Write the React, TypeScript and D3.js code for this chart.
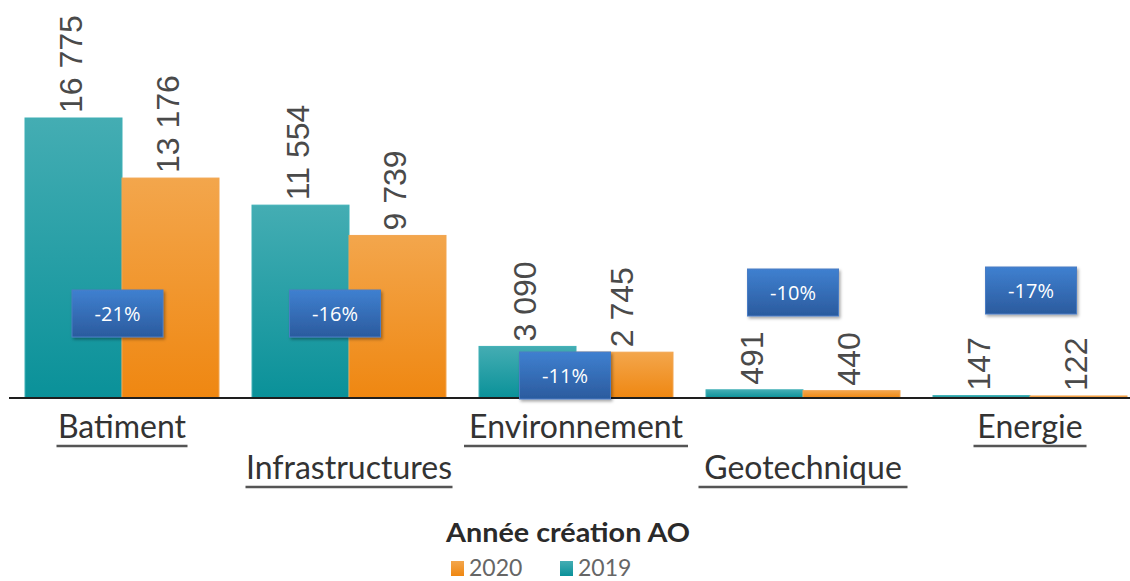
import React from "react";
import * as d3 from "d3";

const categories = ["Batiment", "Infrastructures", "Environnement", "Geotechnique", "Energie"];
const values2019 = [16775, 11554, 3090, 491, 147];
const values2020 = [13176, 9739, 2745, 440, 122];
const seriesKeys = ["2019", "2020"];
const legendTitle = "Année création AO";
const legendOrder = ["2020", "2019"];

// annotation box placement (dx from group centre, top y)
const boxLayout = [
  { dx: -4.5, y: 290 },
  { dx: -14, y: 290 },
  { dx: -11, y: 352 },
  { dx: -10, y: 269 },
  { dx: 1, y: 267 },
];

const W = 1130;
const H = 581;
const baseY = 398;

const fmt = (v: number) => d3.format(",")(v).replace(/,/g, " ");

export default function App() {
  const x0 = d3
    .scaleBand<string>()
    .domain(categories)
    .range([8.5, 1143.5])
    .paddingInner(33 / 227)
    .paddingOuter(33 / 454);
  const x1 = d3.scaleBand<string>().domain(seriesKeys).range([0, x0.bandwidth()]).padding(0);
  const y = d3.scaleLinear().domain([0, 16775]).range([baseY, 118]);

  const colorFill: Record<string, string> = { "2019": "url(#gTeal)", "2020": "url(#gOrange)" };
  const colorStroke: Record<string, string> = { "2019": "#3fb0b6", "2020": "#f2a550" };
  const legendColor: Record<string, string> = { "2019": "url(#gTeal)", "2020": "url(#gOrange)" };

  const rows = categories.map((c, i) => ({
    cat: c,
    vals: { "2019": values2019[i], "2020": values2020[i] } as Record<string, number>,
  }));

  const labelRowY = [438, 479];

  return (
    <svg
      width={W}
      height={H}
      style={{ position: "absolute", left: 0, top: 0, background: "#fff" }}
    >
      <defs>
        <linearGradient id="gTeal" x1="0" y1="0" x2="0" y2="1">
          <stop offset="0" stopColor="#44adb3" />
          <stop offset="1" stopColor="#0a9199" />
        </linearGradient>
        <linearGradient id="gOrange" x1="0" y1="0" x2="0" y2="1">
          <stop offset="0" stopColor="#f3a64c" />
          <stop offset="1" stopColor="#ef8711" />
        </linearGradient>
        <linearGradient id="gBlue" x1="0" y1="0" x2="0" y2="1">
          <stop offset="0" stopColor="#3f80d0" />
          <stop offset="1" stopColor="#2b5b9e" />
        </linearGradient>
        <filter id="shadow" x="-20%" y="-20%" width="140%" height="150%">
          <feDropShadow dx="1.5" dy="2" stdDeviation="1.5" floodColor="#000" floodOpacity="0.35" />
        </filter>
      </defs>

      {rows.map((r) => (
        <g key={r.cat} transform={`translate(${x0(r.cat)},0)`}>
          {seriesKeys.map((k) => {
            const v = r.vals[k];
            const bx = x1(k)!;
            const bw = x1.bandwidth();
            const top = y(v);
            return (
              <rect
                key={k}
                x={bx}
                y={top}
                width={bw}
                height={baseY - top}
                fill={colorFill[k]}
                stroke={colorStroke[k]}
                strokeWidth={1}
              />
            );
          })}
        </g>
      ))}

      <line x1={9} x2={1130} y1={baseY} y2={baseY} stroke="#1e1e1e" strokeWidth={2} />

      {rows.map((r) =>
        seriesKeys.map((k) => {
          const v = r.vals[k];
          const cx = x0(r.cat)! + x1(k)! + x1.bandwidth() / 2 - 3;
          const ty = y(v) - 5;
          return (
            <text
              key={r.cat + k}
              transform={`translate(${cx},${ty}) rotate(-90)`}
              dy="0.36em"
              fontFamily="'Liberation Sans', Arial, sans-serif"
              fontSize={32}
              fill="#4a4a4a"
            >
              {fmt(v)}
            </text>
          );
        })
      )}

      {rows.map((r, i) => {
        const cx = x0(r.cat)! + x0.bandwidth() / 2;
        const b = boxLayout[i];
        const pct = Math.round(((r.vals["2020"] - r.vals["2019"]) / r.vals["2019"]) * 100);
        const bw = 91;
        const bh = 47;
        return (
          <g key={"box" + r.cat} transform={`translate(${cx + b.dx - bw / 2},${b.y})`}>
            <rect width={bw} height={bh} fill="url(#gBlue)" stroke="#4a7cc4" strokeWidth={1} filter="url(#shadow)" />
            <text
              x={bw / 2}
              y={bh / 2}
              dy="0.36em"
              textAnchor="middle"
              fontFamily="'Open Sans', sans-serif"
              fontSize={20}
              fill="#fff"
            >
              {`${pct}%`}
            </text>
          </g>
        );
      })}

      {rows.map((r, i) => {
        const cx = x0(r.cat)! + x0.bandwidth() / 2;
        const ly = labelRowY[i % 2];
        return (
          <g key={"lab" + r.cat}>
            <text
              x={cx}
              y={ly}
              textAnchor="middle"
              fontFamily="Lato, sans-serif"
              fontSize={32}
              fill="#333"
            >
              {r.cat}
            </text>
          </g>
        );
      })}
      {rows.map((r, i) => {
        const cx = x0(r.cat)! + x0.bandwidth() / 2;
        const ly = labelRowY[i % 2];
        const len = [131, 207, 224, 209, 113][i];
        return (
          <line
            key={"ul" + r.cat}
            x1={cx - len / 2}
            x2={cx + len / 2}
            y1={ly + 8}
            y2={ly + 8}
            stroke="#555"
            strokeWidth={2.5}
          />
        );
      })}

      <text
        x={568}
        y={542}
        textAnchor="middle"
        fontFamily="Lato, sans-serif"
        fontWeight={700}
        fontSize={26}
        textLength={244}
        lengthAdjust="spacingAndGlyphs"
        fill="#2a2a2a"
      >
        {legendTitle}
      </text>
      {legendOrder.map((k, i) => {
        const lx = 451 + i * 109;
        return (
          <g key={"lg" + k}>
            <rect x={lx} y={561} width={13} height={15} fill={legendColor[k]} />
            <text x={lx + 18} y={576} fontFamily="Lato, sans-serif" fontSize={23} fill="#666">
              {k}
            </text>
          </g>
        );
      })}
    </svg>
  );
}
